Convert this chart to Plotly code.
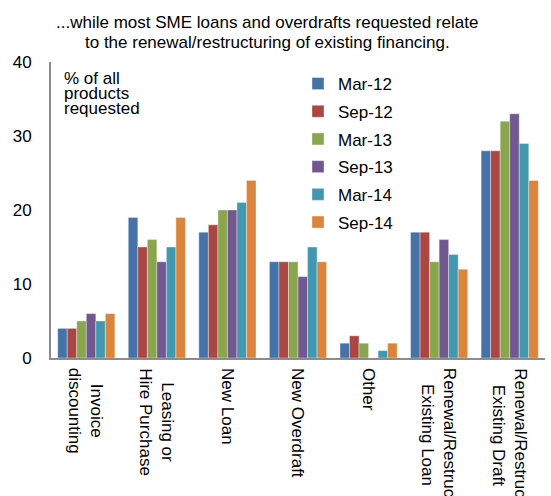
import plotly.graph_objects as go

# Product categories (line breaks used for the rotated axis labels)
categories = [
    "Invoice<br>discounting",
    "Leasing or<br>Hire Purchase",
    "New Loan",
    "New Overdraft",
    "Other",
    "Renewal/Restruct<br>Existing Loan",
    "Renewal/Restruct<br>Existing Draft",
]

# Survey waves
periods = ["Mar-12", "Sep-12", "Mar-13", "Sep-13", "Mar-14", "Sep-14"]

# % of all products requested, one list per wave (same order as categories)
mar_12 = [4, 19, 17, 13, 2, 17, 28]
sep_12 = [4, 15, 18, 13, 3, 17, 28]
mar_13 = [5, 16, 20, 13, 2, 13, 32]
sep_13 = [6, 13, 20, 11, 0, 16, 33]
mar_14 = [5, 15, 21, 15, 1, 14, 29]
sep_14 = [6, 19, 24, 13, 2, 12, 24]

series = [mar_12, sep_12, mar_13, sep_13, mar_14, sep_14]
colors = ["#4572A7", "#AA4643", "#89A54E", "#71588F", "#4198AF", "#DB843D"]

y_ticks = [0, 10, 20, 30, 40]

FONT = "Liberation Sans, Arial, sans-serif"
W, H = 551, 496
M_L, M_R, M_T, M_B = 51, 6, 62, 138
PW = W - M_L - M_R
PH = H - M_T - M_B


def px_to_paper_x(px):
    return (px - M_L) / PW


def px_to_paper_y(py):
    return (H - M_B - py) / PH


fig = go.Figure()
for name, vals, col in zip(periods, series, colors):
    fig.add_trace(go.Bar(
        x=categories, y=vals, name=name, legendgroup=name,
        marker=dict(color=col, line=dict(color="rgba(255,255,255,0.45)", width=0.8)),
    ))

annotations = []

# Two-line heading, laid out line by line for tight spacing
for text, py in [("...while most SME loans and overdrafts requested relate", 22.5),
                 ("to the renewal/restructuring of existing financing.", 42.5)]:
    annotations.append(dict(
        text=text, xref="paper", yref="paper",
        x=px_to_paper_x(267), y=px_to_paper_y(py),
        xanchor="center", yanchor="middle", showarrow=False,
        font=dict(family=FONT, size=17, color="#000000"),
    ))

# Unit note in the top-left corner of the plot
for text, py in [("% of all", 78), ("products", 93), ("requested", 108)]:
    annotations.append(dict(
        text=text, xref="paper", yref="paper",
        x=px_to_paper_x(62), y=px_to_paper_y(py),
        xanchor="left", yanchor="middle", showarrow=False,
        font=dict(family=FONT, size=17, color="#000000"),
    ))

# Rotated, centre-aligned category labels under the axis
for cat in categories:
    annotations.append(dict(
        text=cat, xref="x", yref="paper", x=cat, y=0,
        xanchor="center", yanchor="top", yshift=-8,
        textangle=90, align="center", showarrow=False,
        font=dict(family=FONT, size=17, color="#000000"),
    ))

fig.update_layout(
    width=W, height=H,
    margin=dict(l=M_L, r=M_R, t=M_T, b=M_B, pad=0),
    paper_bgcolor="white", plot_bgcolor="white",
    barmode="group", bargap=0.19, bargroupgap=0,
    font=dict(family=FONT, size=17, color="#000000"),
    showlegend=True,
    legend=dict(
        x=px_to_paper_x(298), y=px_to_paper_y(66),
        xanchor="left", yanchor="top",
        bgcolor="rgba(0,0,0,0)",
        font=dict(family=FONT, size=17, color="#000000"),
        itemwidth=30, traceorder="grouped", tracegroupgap=2.6,
    ),
    annotations=annotations,
    xaxis=dict(
        showticklabels=False, ticks="", showgrid=False, zeroline=False,
        showline=True, linecolor="#8C8C8C", linewidth=2,
    ),
    yaxis=dict(
        range=[0, 40], tickvals=y_ticks, ticks="", showgrid=False,
        zeroline=False, showline=True, linecolor="#8C8C8C", linewidth=2,
        tickfont=dict(family=FONT, size=17, color="#000000"),
        ticklabelstandoff=14,
    ),
)

fig.write_html("out.html")
